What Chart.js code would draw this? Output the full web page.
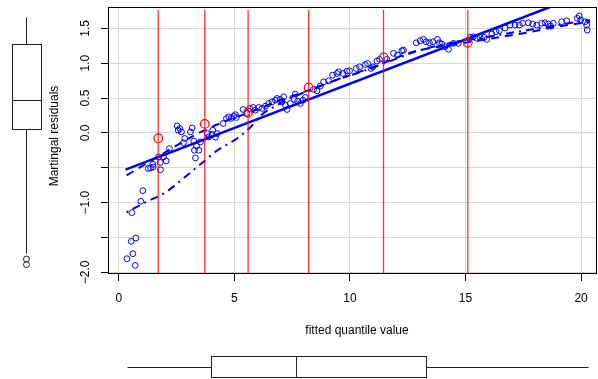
<!DOCTYPE html>
<html><head><meta charset="utf-8">
<script src="https://cdn.jsdelivr.net/npm/chart.js@4/dist/chart.umd.min.js"></script>
<style>html,body{margin:0;padding:0;background:#fff;overflow:hidden}canvas{display:block}</style>
</head><body>
<canvas id="c" width="598" height="379" style="width:598px;height:379px"></canvas>
<script>
// ---- axis ticks ----
const xTicks = [0, 5, 10, 15, 20];
const xTickLabels = ['0', '5', '10', '15', '20'];
const yTicks = [-2, -1.5, -1, -0.5, 0, 0.5, 1, 1.5];
const yTickLabels = ['\u22122.0', '', '\u22121.0', '', '0.0', '0.5', '1.0', '1.5'];
const xRange = [-0.47, 20.69];
const yRange = [-2.01, 1.806];
const xTitle = 'fitted quantile value';
const yTitle = 'Martingal residuals';

// ---- residual points ----
const residX = [0.346,0.709,0.605,0.536,0.735,0.562,0.951,1.037,1.271,1.370,1.487,1.469,1.716,1.932,2.048,1.789,1.802,2.191,2.524,2.636,2.567,2.710,2.852,3.099,3.172,2.796,3.241,3.358,3.457,3.271,3.315,3.531,3.820,3.889,4.036,4.062,4.252,4.179,4.512,4.654,4.754,4.857,4.970,5.086,5.043,5.376,5.549,5.661,5.808,5.907,6.050,6.197,6.340,6.482,6.629,6.772,6.845,6.988,7.061,7.204,7.277,7.420,7.593,7.735,7.852,7.969,8.068,7.130,7.636,8.427,8.574,8.716,8.859,9.075,9.248,9.438,9.507,9.698,9.870,9.983,10.272,10.415,10.661,10.761,10.907,10.994,11.167,11.279,11.599,11.884,12.057,12.247,12.316,12.865,13.038,13.181,13.297,13.440,13.587,13.786,13.872,13.976,14.118,14.261,14.477,14.693,15.199,15.341,15.488,15.631,15.804,15.920,16.136,16.322,16.465,16.711,16.927,17.143,17.329,17.476,17.718,17.908,18.081,18.297,18.440,18.582,18.686,18.798,19.162,19.378,19.836,19.922,19.983,20.168,20.242,20.268];
const residY = [-1.805,-1.901,-1.733,-1.556,-1.509,-1.144,-0.981,-0.828,-0.511,-0.503,-0.489,-0.450,-0.345,-0.345,-0.402,-0.425,-0.529,-0.224,0.101,0.063,0.039,0.014,-0.080,0.014,0.072,-0.141,-0.119,-0.187,-0.249,-0.249,-0.359,-0.129,-0.009,-0.057,-0.023,0.039,-0.009,-0.062,0.135,0.207,0.230,0.207,0.240,0.221,0.261,0.336,0.279,0.351,0.365,0.326,0.365,0.351,0.384,0.422,0.445,0.470,0.494,0.480,0.445,0.398,0.336,0.422,0.480,0.455,0.422,0.470,0.509,0.517,0.556,0.624,0.603,0.671,0.733,0.747,0.829,0.853,0.876,0.853,0.886,0.891,0.925,0.948,0.980,0.997,0.925,0.948,1.030,1.055,1.055,1.141,1.116,1.178,1.188,1.293,1.322,1.342,1.307,1.293,1.307,1.342,1.293,1.274,1.236,1.198,1.284,1.284,1.371,1.379,1.356,1.371,1.371,1.342,1.418,1.451,1.466,1.504,1.547,1.547,1.547,1.572,1.580,1.562,1.547,1.572,1.580,1.562,1.533,1.572,1.595,1.609,1.644,1.677,1.619,1.595,1.547,1.476];

// ---- group (quantile bin) means ----
const groupX = [1.703, 3.716, 5.592, 8.211, 11.452, 15.099];
const groupY = [-0.076, 0.129, 0.290, 0.652, 1.083, 1.293];
const groupLineTop = 1.763;

// ---- fitted lines ----
const fitX = [0.29, 18.66];
const fitY = [-0.526, 1.806];
const smoothX = [0.333,1.370,2.449,3.531,4.611,5.692,6.772,7.852,8.933,10.013,11.093,12.174,13.038,14.334,15.415,16.495,17.576,18.656,19.737,20.385];
const smoothY = [-0.608,-0.407,-0.191,0.010,0.168,0.297,0.441,0.570,0.700,0.829,0.958,1.102,1.188,1.260,1.318,1.375,1.433,1.504,1.562,1.591];
const dotdashX = [0.333,1.154,2.018,2.796,3.531,4.265,5.130,5.692,6.210,6.772,7.420,8.284,9.365,10.445,11.741,13.038,14.334,15.631,16.927,18.224,19.520,20.385];
const dotdashY = [-1.139,-0.996,-0.853,-0.651,-0.450,-0.249,-0.076,0.082,0.269,0.384,0.499,0.614,0.757,0.872,1.030,1.188,1.289,1.361,1.433,1.504,1.576,1.619];

// ---- marginal boxplots: [lower whisker, Q1, median, Q3, upper whisker] ----
const yBoxStats = [-1.728, 0.053, 0.470, 1.274, 1.662];
const yOutliers = [-1.81, -1.89];
const xBoxStats = [0.34, 3.99, 7.65, 13.28, 20.30];

const BLUE = '#0000FF';
const FONT = "12px 'Liberation Sans', Arial, Helvetica, sans-serif";
Chart.defaults.font.family = "'Liberation Sans', Arial, Helvetica, sans-serif";
Chart.defaults.font.size = 12;
Chart.defaults.color = '#000';

const pts = (xs, ys) => xs.map((x, i) => ({x, y: ys[i]}));

const datasets = [];
datasets.push({label:'group means', data: pts(groupX, groupY), showLine:false,
  pointRadius:4.3, pointBorderWidth:1.2, borderColor:'#FF0000', pointBorderColor:'#FF0000',
  pointBackgroundColor:'rgba(0,0,0,0)', order:1});
groupX.forEach((gx, i) => {
  datasets.push({label:'cut'+i, data:[{x:gx, y:yRange[0]}, {x:gx, y:groupLineTop}], showLine:true,
    borderColor:'rgba(255,0,0,0.8)', borderWidth:1.3, pointRadius:0, order:2});
});
datasets.push({label:'fit', data: pts(fitX, fitY), showLine:true, borderColor:BLUE, borderWidth:2.5, pointRadius:0, order:3});
datasets.push({label:'smooth', data: pts(smoothX, smoothY), showLine:true, borderColor:BLUE, borderWidth:2, borderDash:[8,6], pointRadius:0, cubicInterpolationMode:'monotone', tension:0.4, order:3});
datasets.push({label:'dotdash', data: pts(dotdashX, dotdashY), showLine:true, borderColor:BLUE, borderWidth:2, borderDash:[2,5,8,5], pointRadius:0, cubicInterpolationMode:'monotone', tension:0.4, order:3});
datasets.push({label:'residuals', data: pts(residX, residY), showLine:false, pointRadius:2.9, pointBorderWidth:1,
  borderColor:BLUE, pointBorderColor:BLUE, pointBackgroundColor:'rgba(0,0,0,0)', order:4});

const decor = {
  id:'decor',
  afterDraw(chart) {
    const ctx = chart.ctx, a = chart.chartArea, sx = chart.scales.x, sy = chart.scales.y;
    ctx.save();
    // frame
    ctx.strokeStyle = '#000'; ctx.lineWidth = 1;
    ctx.strokeRect(Math.round(a.left)+0.5, Math.round(a.top)+0.5, Math.round(a.right-a.left)-1, Math.round(a.bottom-a.top));
    ctx.fillStyle = '#000'; ctx.font = FONT;
    ctx.textAlign = 'center'; ctx.textBaseline = 'middle';
    // x tick labels
    xTicks.forEach((v, i) => ctx.fillText(xTickLabels[i], sx.getPixelForValue(v), 299));
    // y tick labels (rotated, R style)
    yTicks.forEach((v, i) => {
      if (!yTickLabels[i]) return;
      ctx.save(); ctx.translate(86, sy.getPixelForValue(v)); ctx.rotate(-Math.PI/2);
      ctx.fillText(yTickLabels[i], 0, 0); ctx.restore();
    });
    // axis titles
    ctx.save(); ctx.translate(55, 136); ctx.rotate(-Math.PI/2); ctx.fillText(yTitle, 0, 0); ctx.restore();
    ctx.fillText(xTitle, 357, 331);
    // left boxplot (y distribution)
    ctx.strokeStyle = '#222'; ctx.lineWidth = 1;
    const L0 = 12.5, L1 = 41.5, LC = 26.5;
    const py = v => Math.round(sy.getPixelForValue(v)) + 0.5;
    ctx.beginPath();
    ctx.moveTo(LC, py(yBoxStats[0])); ctx.lineTo(LC, py(yBoxStats[1]));
    ctx.moveTo(LC, py(yBoxStats[3])); ctx.lineTo(LC, py(yBoxStats[4]));
    ctx.stroke();
    ctx.strokeRect(L0, py(yBoxStats[3]), L1-L0, py(yBoxStats[1]) - py(yBoxStats[3]));
    ctx.beginPath(); ctx.moveTo(L0, py(yBoxStats[2])); ctx.lineTo(L1, py(yBoxStats[2])); ctx.stroke();
    yOutliers.forEach(v => { ctx.beginPath(); ctx.arc(LC, sy.getPixelForValue(v), 3, 0, Math.PI*2); ctx.stroke(); });
    // bottom boxplot (x distribution)
    const B0 = 356.5, B1 = 377.5, BC = 367.5;
    const px = v => Math.round(sx.getPixelForValue(v)) + 0.5;
    ctx.beginPath();
    ctx.moveTo(px(xBoxStats[0]), BC); ctx.lineTo(px(xBoxStats[1]), BC);
    ctx.moveTo(px(xBoxStats[3]), BC); ctx.lineTo(px(xBoxStats[4]), BC);
    ctx.stroke();
    ctx.strokeRect(px(xBoxStats[1]), B0, px(xBoxStats[3]) - px(xBoxStats[1]), B1-B0);
    ctx.beginPath(); ctx.moveTo(px(xBoxStats[2]), B0); ctx.lineTo(px(xBoxStats[2]), B1); ctx.stroke();
    ctx.restore();
  }
};

new Chart(document.getElementById('c'), {
  type:'scatter',
  data:{datasets},
  options:{
    responsive:false, animation:false, devicePixelRatio:1,
    layout:{autoPadding:false, padding:{left:101, top:7, right:1, bottom:0}},
    plugins:{legend:{display:false}, tooltip:{enabled:false}},
    scales:{
      x:{type:'linear', min:xRange[0], max:xRange[1],
        afterBuildTicks: s => { s.ticks = xTicks.map(v => ({value:v})); },
        ticks:{display:false},
        grid:{color:'#d6d6d6', lineWidth:1, tickColor:'#000', tickLength:8, drawTicks:true},
        border:{display:false},
        afterFit: s => { s.height = 106; s.paddingLeft = 0; s.paddingRight = 0; }},
      y:{type:'linear', min:yRange[0], max:yRange[1],
        afterBuildTicks: s => { s.ticks = yTicks.map(v => ({value:v})); },
        ticks:{display:false},
        grid:{color:'#d6d6d6', lineWidth:1, tickColor:'#000', tickLength:7, drawTicks:true},
        border:{display:false},
        afterFit: s => { s.width = 7; s.paddingTop = 0; s.paddingBottom = 0; }}
    }
  },
  plugins:[decor]
});
</script>
</body></html>
